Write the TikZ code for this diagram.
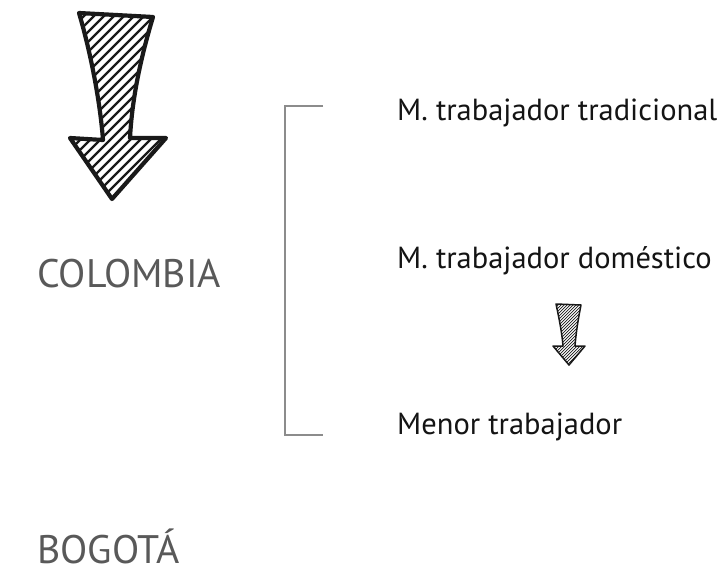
\documentclass[tikz,border=0pt]{standalone}
\usepackage{fontspec}
\setmainfont{PT Sans}
\begin{document}
\begin{tikzpicture}[x=1pt,y=-1pt,
  item/.style={anchor=base west,inner sep=0pt,text depth=0pt,font=\fontsize{30.5}{32}\selectfont,text=black!92},
  place/.style={anchor=base west,inner sep=0pt,text depth=0pt,font=\fontsize{39.8}{44}\selectfont,text=black!65},
  bracketline/.style={draw=black!45,line width=2.4pt},
  outline/.style={draw=black!90,line join=round,line cap=round},
  hatch/.style={black!90,line cap=round}]
\useasboundingbox (0,0) rectangle (727,571);
\fill[white] (0,0) rectangle (727,571);

% big arrow
\def\bigarrow{(79,13) -- (153,17) .. controls (140,60) and (132,100) .. (130,138) -- (166,138) -- (112,199) -- (70,138) -- (103,140) .. controls (100,100) and (90,50) .. cycle}
\begin{scope}
\clip \bigarrow;
\foreach \k in {-20,-10,...,300}
  \draw[hatch,line width=2.4pt] (60,\k+40) -- (180,\k-80);
\end{scope}
\draw[outline,line width=4.2pt] \bigarrow;

% small arrow
\def\smallarrow{(556,304) -- (581,305) .. controls (578,320) and (576,333) .. (575,346) -- (585,346) -- (569,365) -- (553,346) -- (563,346) .. controls (562,333) and (559,318) .. cycle}
\begin{scope}
\clip \smallarrow;
\foreach \k in {290,293,...,400}
  \draw[hatch,line width=0.7pt] (545,\k+10) -- (595,\k-40);
\end{scope}
\draw[outline,line width=1.5pt] \smallarrow;

% places
\node[place] (col) at (37,287) {COLOMBIA};
\node[place] (bog) at (37,563) {BOGOTÁ};

% items
\node[item] (t1) at (397,120) {M. trabajador tradicional};
\node[item] (t2) at (397,268) {M. trabajador doméstico};
\node[item] (t3) at (397,434) {Menor trabajador};

% bracket
\coordinate (btop) at (323,106);
\coordinate (bbot) at (323,435);
\draw[bracketline] (btop) -- (285,106) -- (285,435) -- (bbot);
\end{tikzpicture}
\end{document}
